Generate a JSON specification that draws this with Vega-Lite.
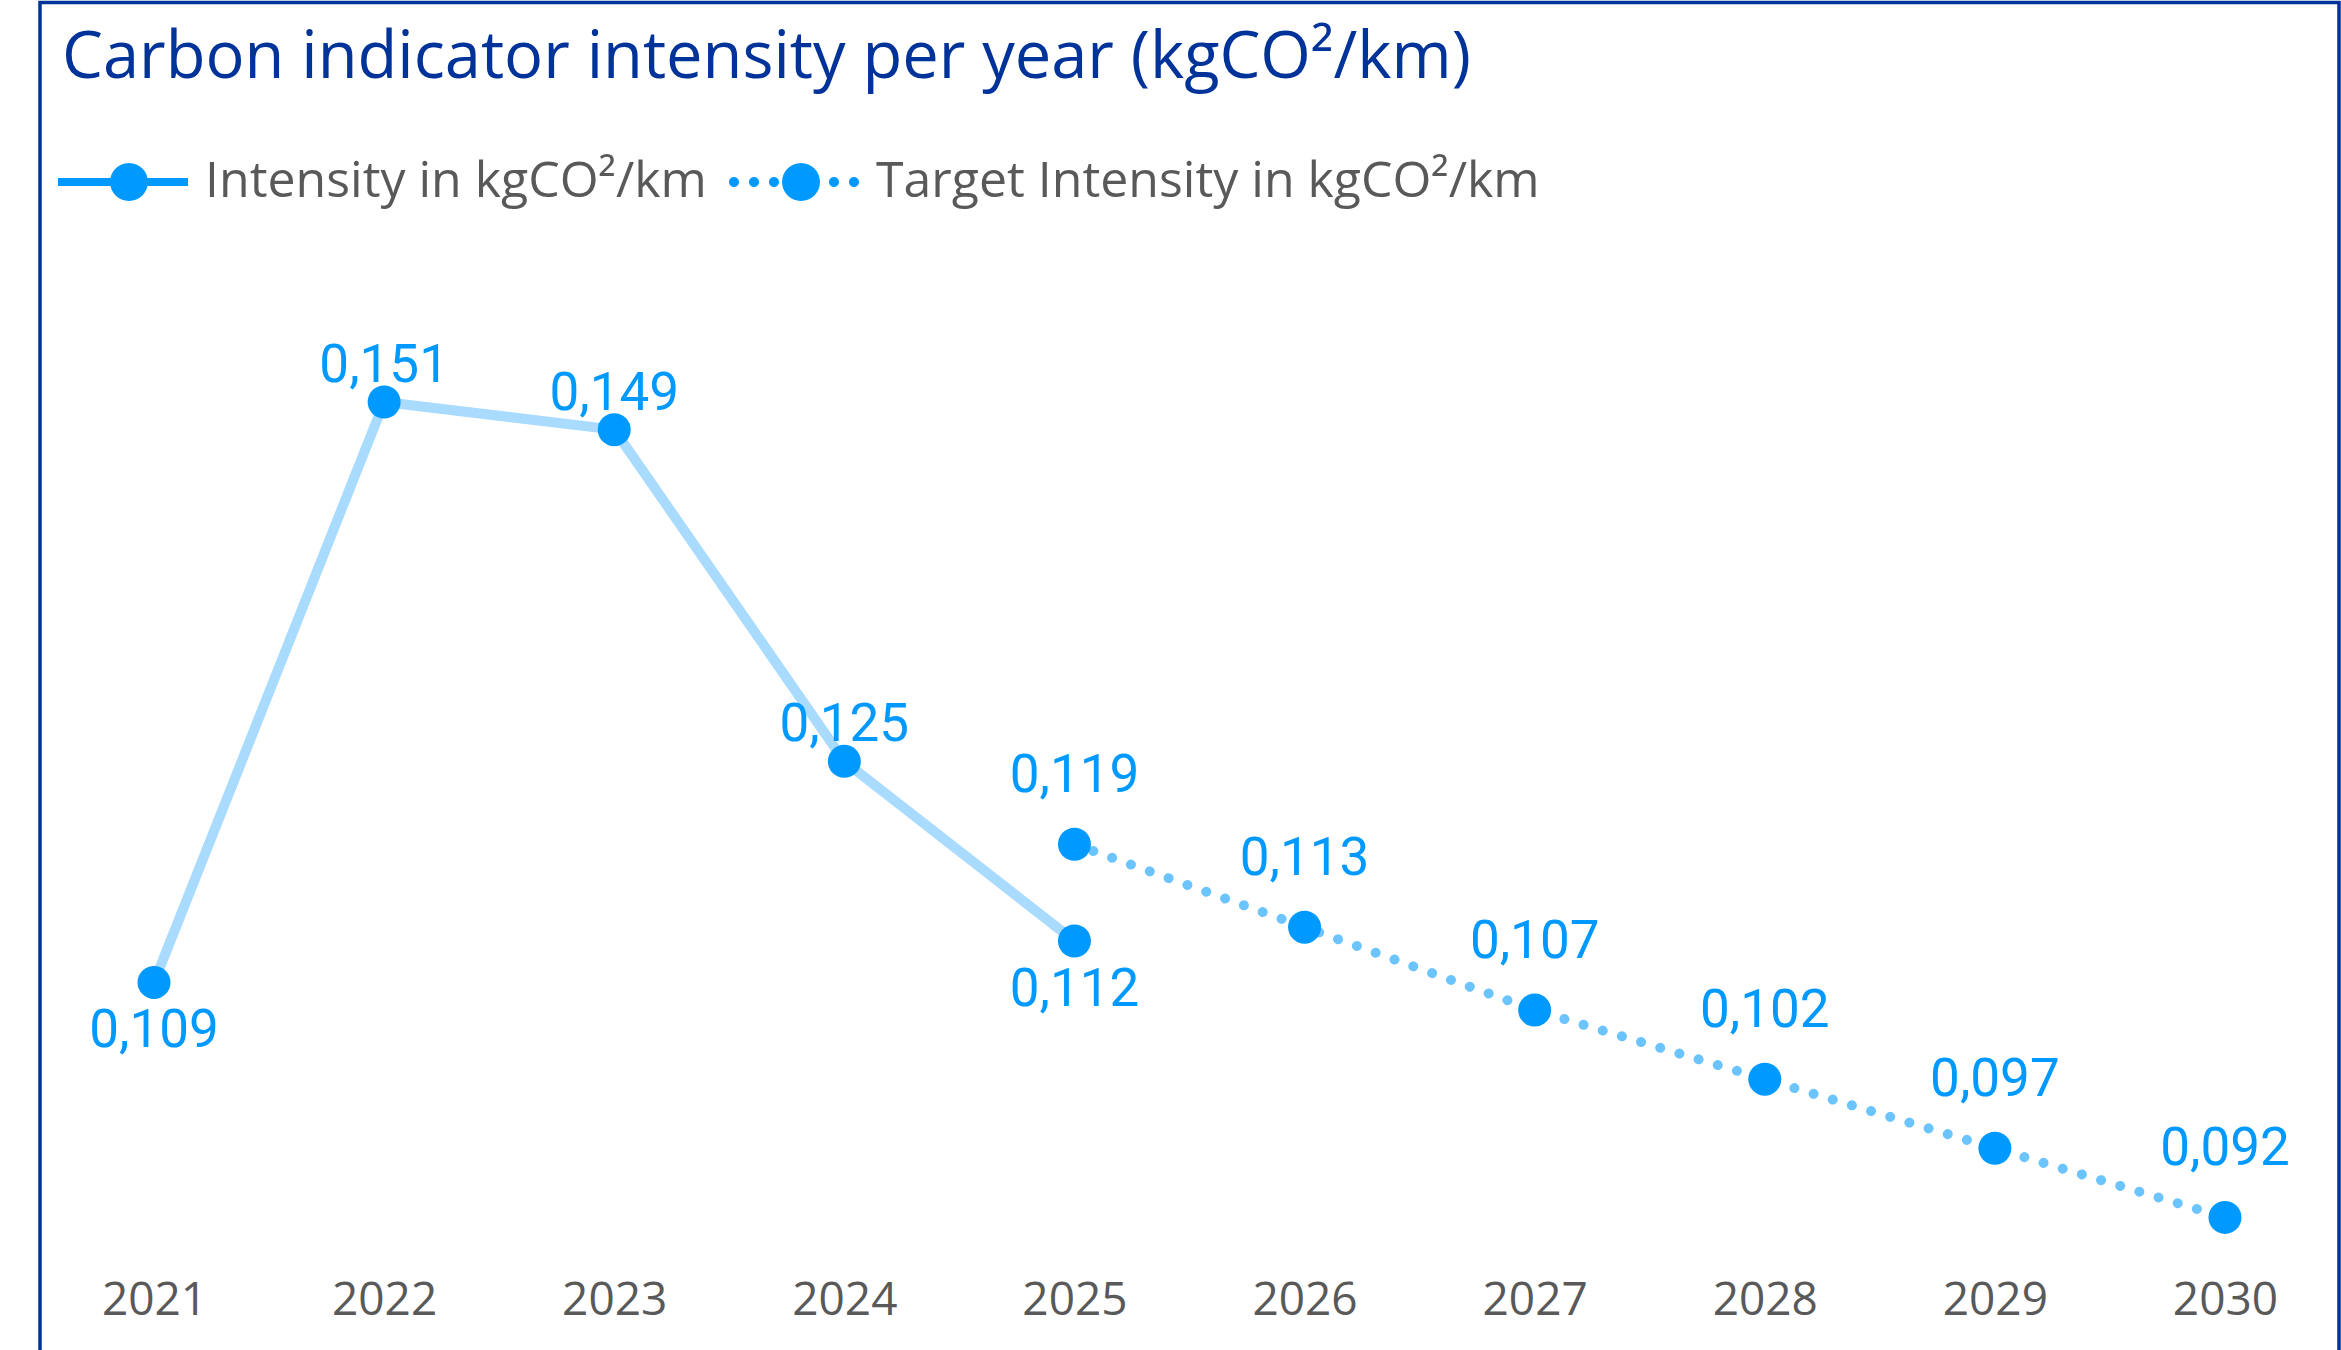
{
  "$schema": "https://vega.github.io/schema/vega-lite/v6.json",
  "autosize": {"type": "none"},
  "padding": {"left": 40, "top": 2.5, "right": 2, "bottom": -4},
  "width": 2299,
  "height": 1351.5,
  "background": "white",
  "title": {
    "text": "Carbon indicator intensity per year (kgCO²/km)",
    "anchor": "start",
    "frame": "group",
    "orient": "top",
    "offset": -89,
    "dx": 22,
    "font": "Open Sans",
    "fontSize": 65,
    "fontWeight": "normal",
    "color": "#003399"
  },
  "data": {
    "values": [
      {"year": 2021, "series": "Intensity in kgCO²/km", "value": 0.109},
      {"year": 2022, "series": "Intensity in kgCO²/km", "value": 0.151},
      {"year": 2023, "series": "Intensity in kgCO²/km", "value": 0.149},
      {"year": 2024, "series": "Intensity in kgCO²/km", "value": 0.125},
      {"year": 2025, "series": "Intensity in kgCO²/km", "value": 0.112},
      {"year": 2025, "series": "Target Intensity in kgCO²/km", "value": 0.119},
      {"year": 2026, "series": "Target Intensity in kgCO²/km", "value": 0.113},
      {"year": 2027, "series": "Target Intensity in kgCO²/km", "value": 0.107},
      {"year": 2028, "series": "Target Intensity in kgCO²/km", "value": 0.102},
      {"year": 2029, "series": "Target Intensity in kgCO²/km", "value": 0.097},
      {"year": 2030, "series": "Target Intensity in kgCO²/km", "value": 0.092}
    ]
  },
  "encoding": {
    "x": {
      "field": "year",
      "type": "ordinal",
      "scale": {"type": "point", "padding": 0.4955},
      "axis": {
        "title": null,
        "domain": false,
        "ticks": false,
        "grid": false,
        "labelPadding": 0,
        "labelBaseline": "alphabetic",
        "labelAngle": 0,
        "offset": -40,
        "labelFont": "Open Sans",
        "labelFontSize": 46,
        "labelColor": "#595959"
      }
    },
    "y": {
      "field": "value",
      "type": "quantitative",
      "scale": {"domain": [0.082114, 0.179907], "nice": false, "zero": false},
      "axis": null
    }
  },
  "layer": [
    {
      "transform": [{"filter": "datum.series === 'Intensity in kgCO²/km'"}],
      "mark": {"type": "line", "color": "#A9DBFF", "strokeWidth": 10, "strokeJoin": "round", "strokeCap": "round"}
    },
    {
      "transform": [{"filter": "datum.series === 'Target Intensity in kgCO²/km'"}],
      "mark": {"type": "line", "color": "#6CC4FF", "strokeWidth": 10, "strokeDash": [0.01, 20], "strokeCap": "round"}
    },
    {
      "mark": {"type": "circle", "color": "#0099FF", "size": 1089, "opacity": 1}
    },
    {
      "transform": [{"filter": "false"}],
      "mark": {"type": "point", "filled": true, "color": "#0099FF", "size": 16900, "opacity": 1, "strokeWidth": 0},
      "encoding": {
        "shape": {
          "field": "series",
          "type": "nominal",
          "scale": {
            "domain": ["Intensity in kgCO²/km", "Target Intensity in kgCO²/km"],
            "range": [
              "M-1 -0.062L1 -0.062L1 0.062L-1 0.062Z M-0.2 0A0.292 0.292 0 1 1 0.384 0A0.292 0.292 0 1 1 -0.2 0Z",
              "M-1 0A0.077 0.077 0 1 1 -0.846 0A0.077 0.077 0 1 1 -1 0Z M-0.692 0A0.077 0.077 0 1 1 -0.538 0A0.077 0.077 0 1 1 -0.692 0Z M-0.385 0A0.077 0.077 0 1 1 -0.231 0A0.077 0.077 0 1 1 -0.385 0Z M0.538 0A0.077 0.077 0 1 1 0.692 0A0.077 0.077 0 1 1 0.538 0Z M0.846 0A0.077 0.077 0 1 1 1 0A0.077 0.077 0 1 1 0.846 0Z M-0.184 0A0.292 0.292 0 1 1 0.4 0A0.292 0.292 0 1 1 -0.184 0Z"
            ]
          },
          "legend": {
            "title": null,
            "orient": "none",
            "legendX": 18,
            "legendY": 114.5,
            "direction": "horizontal",
            "padding": 0,
            "symbolSize": 16900,
            "symbolFillColor": "#0099FF",
            "symbolStrokeWidth": 0,
            "symbolOpacity": 1,
            "labelFont": "Open Sans",
            "labelFontSize": 50,
            "labelColor": "#595959",
            "labelOffset": 17,
            "labelLimit": 1000,
            "columnPadding": 22
          }
        }
      }
    },
    {
      "transform": [{"filter": "datum.series === 'Intensity in kgCO²/km' && datum.year >= 2022 && datum.year <= 2024"}],
      "mark": {"type": "text", "font": "Roboto", "fontSize": 53, "color": "#0099FF", "align": "center", "baseline": "alphabetic", "dy": -20},
      "encoding": {"text": {"field": "value", "type": "quantitative", "format": ".3f"}}
    },
    {
      "transform": [{"filter": "datum.series === 'Intensity in kgCO²/km' && (datum.year === 2021 || datum.year === 2025)"}],
      "mark": {"type": "text", "font": "Roboto", "fontSize": 53, "color": "#0099FF", "align": "center", "baseline": "alphabetic", "dy": 65},
      "encoding": {"text": {"field": "value", "type": "quantitative", "format": ".3f"}}
    },
    {
      "transform": [{"filter": "datum.series === 'Target Intensity in kgCO²/km'"}],
      "mark": {"type": "text", "font": "Roboto", "fontSize": 53, "color": "#0099FF", "align": "center", "baseline": "alphabetic", "dy": -52},
      "encoding": {"text": {"field": "value", "type": "quantitative", "format": ".3f"}}
    }
  ],
  "config": {
    "view": {"stroke": "#003399", "strokeWidth": 3.5},
    "locale": {"number": {"decimal": ",", "thousands": ".", "grouping": [3], "currency": ["", " €"]}}
  }
}
